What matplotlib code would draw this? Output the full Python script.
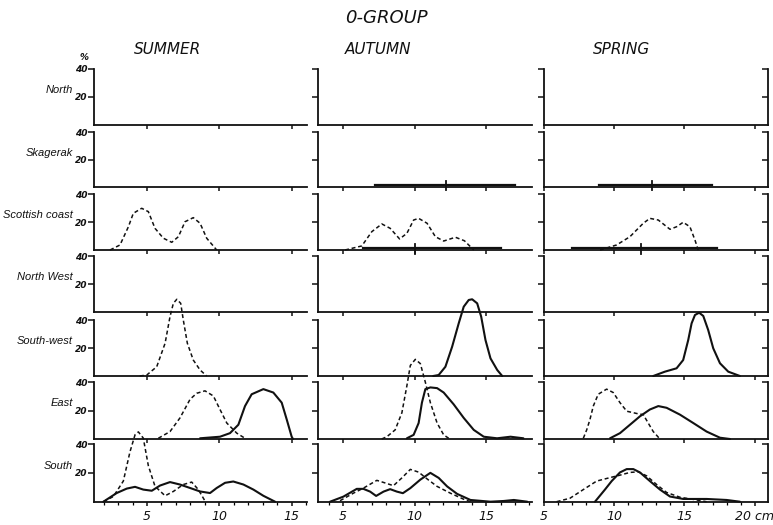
import matplotlib.pyplot as plt
from matplotlib.ticker import MultipleLocator

# --- data (length in cm, frequency in %) ---

seasons = ['SUMMER', 'AUTUMN', 'SPRING']
regions = ['North', 'Skagerak', 'Scottish coast', 'North West', 'South-west', 'East', 'South']

# summer
sum_scot_dash_x = [2.44, 3.13, 3.71, 4.05, 4.63, 5.09, 5.55, 6.13, 6.71, 7.17, 7.63, 8.20, 8.67, 9.13, 9.82]
sum_scot_dash_y = [0, 3.6, 16.6, 26.2, 29.8, 27.4, 15.5, 8.4, 5.5, 9.5, 20.2, 23.1, 19.1, 8.4, 0]

sum_sw_dash_x = [4.5, 4.98, 5.67, 6.25, 6.59, 6.82, 7.06, 7.33, 7.51, 7.79, 8.20, 8.67, 9.13]
sum_sw_dash_y = [0, 0.7, 6.6, 23.4, 42.4, 51.9, 54.8, 51.9, 40, 23.4, 11.4, 4.3, 0]

sum_east_dash_x = [5.78, 6.59, 7.28, 7.98, 8.44, 9.01, 9.59, 10.05, 10.52, 11.21, 11.78]
sum_east_dash_y = [0.5, 5.2, 14.8, 27.9, 32.1, 33.8, 30.2, 20.7, 11.2, 4.1, 0.5]
sum_east_solid_x = [8.67, 10.05, 10.74, 11.32, 11.78, 12.24, 13.05, 13.74, 14.32, 14.67, 15.01, 15.1]
sum_east_solid_y = [0.5, 1.6, 4.1, 10, 23.1, 31.4, 35, 32.6, 25.5, 13.6, 1.6, 0]

sum_south_dash_x = [1.98, 2.67, 3.36, 3.82, 4.17, 4.40, 4.74, 5.09, 5.55, 6.25, 6.82, 7.51, 8.09, 8.55, 9.01]
sum_south_dash_y = [0, 3.6, 14.3, 34.6, 46.4, 48.4, 44.1, 25, 10.7, 4.1, 7.1, 11.9, 13.6, 8.4, 0.5]
sum_south_solid_x = [1.98, 2.90, 3.60, 4.17, 4.74, 5.33, 5.90, 6.59, 7.28, 7.98, 8.67, 9.36, 9.82,
                     10.40, 10.97, 11.67, 12.36, 13.05, 13.86]
sum_south_solid_y = [0, 6, 9.1, 10.3, 8.4, 7.6, 11.2, 13.6, 11.9, 9.5, 7.1, 6, 9.5,
                     13.1, 14, 11.9, 8.4, 4.1, 0]

# autumn
aut_skag_range = (7.24, 12.22, 16.98)   # min, mean, max
aut_scot_range = (6.42, 10.04, 16.05)
aut_scot_dash_x = [5.14, 6.31, 7.01, 7.71, 8.29, 8.95, 9.46, 9.93, 10.28, 10.87, 11.45, 12.03, 12.85, 13.48, 14.13]
aut_scot_dash_y = [0, 2.9, 13.1, 18.6, 15.5, 7.9, 11.9, 21.4, 22.6, 19.1, 9.5, 6.4, 9.1, 6.6, 0]

aut_sw_solid_x = [11.3, 11.68, 12.15, 12.62, 13.08, 13.43, 13.78, 14.02, 14.37, 14.65, 14.95, 15.30, 15.77, 16.12]
aut_sw_solid_y = [0, 0.7, 6.6, 20.9, 37.6, 49.5, 54.3, 54.8, 51.9, 42.4, 25.7, 12.6, 4.3, 0]

aut_east_dash_x = [7.7, 8.06, 8.64, 9.11, 9.46, 9.70, 10.05, 10.40, 10.75, 11.10, 11.57, 12.03, 12.38]
aut_east_dash_y = [0, 1.6, 6.4, 18.4, 37.4, 51.6, 55.9, 52.9, 39.8, 25.5, 11.2, 2.9, 0.5]
aut_east_solid_x = [9.46, 9.93, 10.28, 10.51, 10.75, 11.10, 11.57, 12.03, 12.73, 13.43, 14.13, 14.83, 15.76, 16.7, 17.6]
aut_east_solid_y = [0.5, 2.9, 11.2, 25.5, 35, 36.2, 35.7, 32.6, 24.3, 14.8, 6.4, 1.6, 0.5, 1.6, 0.5]

aut_south_dash_x = [4.79, 5.72, 6.42, 7.36, 7.94, 8.52, 9.11, 9.70, 10.28, 10.87, 11.57, 12.50, 13.43, 13.9]
aut_south_dash_y = [0.7, 5.9, 9.4, 14.8, 13, 11.1, 16.5, 22.4, 20.5, 15.8, 10.6, 5.9, 1.7, 0]
aut_south_solid_x = [4.09, 5.02, 5.96, 6.42, 6.89, 7.31, 7.83, 8.29, 8.76, 9.18, 9.70, 10.40, 11.10,
                     11.68, 12.27, 12.97, 13.90, 15.30, 16.23, 16.93, 17.87]
aut_south_solid_y = [0, 3.5, 8.9, 8.9, 7, 4, 7, 8.7, 7, 5.9, 9.4, 15.3, 20,
                     16.5, 10.6, 5.4, 1.2, 0, 0.5, 1.2, 0]

# spring
spr_skag_range = (8.91, 12.71, 16.98)
spr_scot_range = (6.97, 11.9, 17.33)
spr_scot_dash_x = [8.99, 10.17, 11.12, 12.07, 12.54, 13.14, 13.97, 14.44, 14.91, 15.39, 15.75, 15.98]
spr_scot_dash_y = [0, 3.6, 9.5, 19.1, 22.6, 21.4, 14.8, 16.6, 19.8, 16.6, 7.1, 0]

spr_sw_solid_x = [12.78, 13.61, 14.44, 14.91, 15.27, 15.51, 15.75, 16.05, 16.34, 16.69, 17.05, 17.53, 18.12, 18.95]
spr_sw_solid_y = [0, 3.1, 5.5, 11.4, 25.7, 37.6, 43.6, 45.2, 42.9, 32.9, 19.8, 9.1, 3.1, 0]

spr_east_dash_x = [7.80, 8.04, 8.27, 8.51, 8.86, 9.46, 9.93, 10.41, 10.89, 11.60, 12.07, 12.42, 12.78, 13.21]
spr_east_dash_y = [0.5, 6.4, 13.6, 23.1, 31.4, 35, 32.6, 25.5, 19.5, 17.9, 17.1, 11.2, 5.2, 0.5]
spr_east_solid_x = [9.70, 10.41, 11.12, 11.83, 12.54, 13.14, 13.73, 14.68, 15.63, 16.58, 17.53, 18.24]
spr_east_solid_y = [0.5, 4.1, 10, 15.9, 20.7, 23.1, 21.9, 17.1, 11.2, 5.2, 0.9, 0]

spr_south_dash_x = [5.90, 6.85, 7.80, 8.75, 9.70, 10.41, 11.12, 11.71, 12.31, 13.02, 13.73, 14.68, 15.87, 16.58]
spr_south_dash_y = [0, 2.4, 8.4, 14.3, 16.7, 18.4, 20.3, 20.7, 17.9, 11.9, 6.4, 3.1, 1.2, 0]
spr_south_solid_x = [8.63, 9.34, 9.82, 10.41, 10.89, 11.36, 11.83, 12.54, 13.26, 13.97, 14.91, 16.58, 18.00, 18.95]
spr_south_solid_y = [0, 8.4, 14.3, 20.3, 22.6, 22.6, 20.3, 14.3, 8.4, 3.6, 1.9, 1.9, 1.2, 0]

x_ticks = [[5, 10, 15], [5, 10, 15], [5, 10, 15, 20]]
x_ticklabels = [['5', '10', '15'], ['5', '10', '15'], ['5', '10', '15', '20 cm']]
y_ticks = [20, 40]

# curves per (column, row): (x, y, dashed?)
curves = {
    (0, 2): [(sum_scot_dash_x, sum_scot_dash_y, True)],
    (0, 4): [(sum_sw_dash_x, sum_sw_dash_y, True)],
    (0, 5): [(sum_east_dash_x, sum_east_dash_y, True), (sum_east_solid_x, sum_east_solid_y, False)],
    (0, 6): [(sum_south_dash_x, sum_south_dash_y, True), (sum_south_solid_x, sum_south_solid_y, False)],
    (1, 2): [(aut_scot_dash_x, aut_scot_dash_y, True)],
    (1, 4): [(aut_sw_solid_x, aut_sw_solid_y, False)],
    (1, 5): [(aut_east_dash_x, aut_east_dash_y, True), (aut_east_solid_x, aut_east_solid_y, False)],
    (1, 6): [(aut_south_dash_x, aut_south_dash_y, True), (aut_south_solid_x, aut_south_solid_y, False)],
    (2, 2): [(spr_scot_dash_x, spr_scot_dash_y, True)],
    (2, 4): [(spr_sw_solid_x, spr_sw_solid_y, False)],
    (2, 5): [(spr_east_dash_x, spr_east_dash_y, True), (spr_east_solid_x, spr_east_solid_y, False)],
    (2, 6): [(spr_south_dash_x, spr_south_dash_y, True), (spr_south_solid_x, spr_south_solid_y, False)],
}
ranges = {(1, 1): aut_skag_range, (1, 2): aut_scot_range,
          (2, 1): spr_skag_range, (2, 2): spr_scot_range}

# --- layout (pixels of the 773x525 picture) ---
W, H = 773, 525
col_px = [(94, 307), (318, 532), (544, 768)]
row_px = [(69, 125), (132, 187), (194, 250), (256, 312), (320, 376), (382, 439), (444, 501.7)]
xlims = [(1.33, 16.07), (3.25, 18.2), (5.0, 20.95)]

ink = '#111111'
plt.rcParams['font.family'] = 'DejaVu Sans'
plt.rcParams['font.style'] = 'italic'

fig = plt.figure(figsize=(W / 100, H / 100), dpi=100)

for c, (x0, x1) in enumerate(col_px):
    for r, (yt, yb) in enumerate(row_px):
        ax = fig.add_axes([x0 / W, 1 - yb / H, (x1 - x0) / W, (yb - yt) / H])
        ax.set_xlim(*xlims[c])
        ax.set_ylim(0, 40)
        ax.patch.set_alpha(0)
        ax.spines['top'].set_visible(False)
        ax.spines['right'].set_visible(False)
        for s in ax.spines.values():
            s.set_linewidth(1.3)
            s.set_color(ink)
        ax.set_yticks(y_ticks)
        ax.set_xticks(x_ticks[c])
        ax.tick_params(axis='y', direction='out', length=4, width=1.1, colors=ink,
                       labelsize=6.5, pad=1)
        ax.tick_params(axis='x', direction='out', length=3, width=1.1, colors=ink,
                       labelsize=9, pad=3)
        if c != 0:
            ax.set_yticklabels([])
        else:
            ax.set_yticklabels([str(t) for t in y_ticks], fontweight='bold')
        if r != len(row_px) - 1:
            ax.set_xticklabels([])
        else:
            ax.set_xticklabels(x_ticklabels[c])
            ax.xaxis.set_minor_locator(MultipleLocator(1))
            ax.tick_params(axis='x', which='minor', direction='out', length=2, width=0.9)
        if c == 2:
            # right-hand bracket with inward ticks
            sec = ax.secondary_yaxis('right')
            sec.set_yticks(y_ticks)
            sec.set_yticklabels([])
            sec.tick_params(direction='in', length=4, width=1.1, colors=ink)
            sec.spines['right'].set_linewidth(1.3)
            sec.spines['right'].set_color(ink)
        for x, y, dashed in curves.get((c, r), []):
            ax.plot(x, y, color=ink, lw=1.1 if dashed else 1.5,
                    ls=(0, (2.6, 1.8)) if dashed else '-', clip_on=False,
                    solid_capstyle='round')
        if (c, r) in ranges:
            lo, mid, hi = ranges[(c, r)]
            ax.plot([lo, hi], [1.2, 1.2], color=ink, lw=1.6, clip_on=False)
            ax.plot([mid, mid], [-2.5, 4.5], color=ink, lw=1.3, clip_on=False)
        if c == 0:
            ax.text(-0.1, 25 / 40, regions[r], transform=ax.transAxes, ha='right',
                    va='center', fontsize=8, color=ink,
                    family=['Liberation Sans', 'DejaVu Sans'])

# titles
fig.text(386 / W, 1 - 18 / H, '0-GROUP', ha='center', va='center', fontsize=13, color=ink)
fig.text(168 / W, 1 - 50 / H, seasons[0], ha='center', va='center', fontsize=11, color=ink)
fig.text(378 / W, 1 - 50 / H, seasons[1], ha='center', va='center', fontsize=11, color=ink)
fig.text(622 / W, 1 - 50 / H, seasons[2], ha='center', va='center', fontsize=11, color=ink)
fig.text(84 / W, 1 - 57 / H, '%', ha='center', va='center', fontsize=6.5,
         fontweight='bold', color=ink)

fig.savefig('out.png', dpi=100, facecolor='white')
